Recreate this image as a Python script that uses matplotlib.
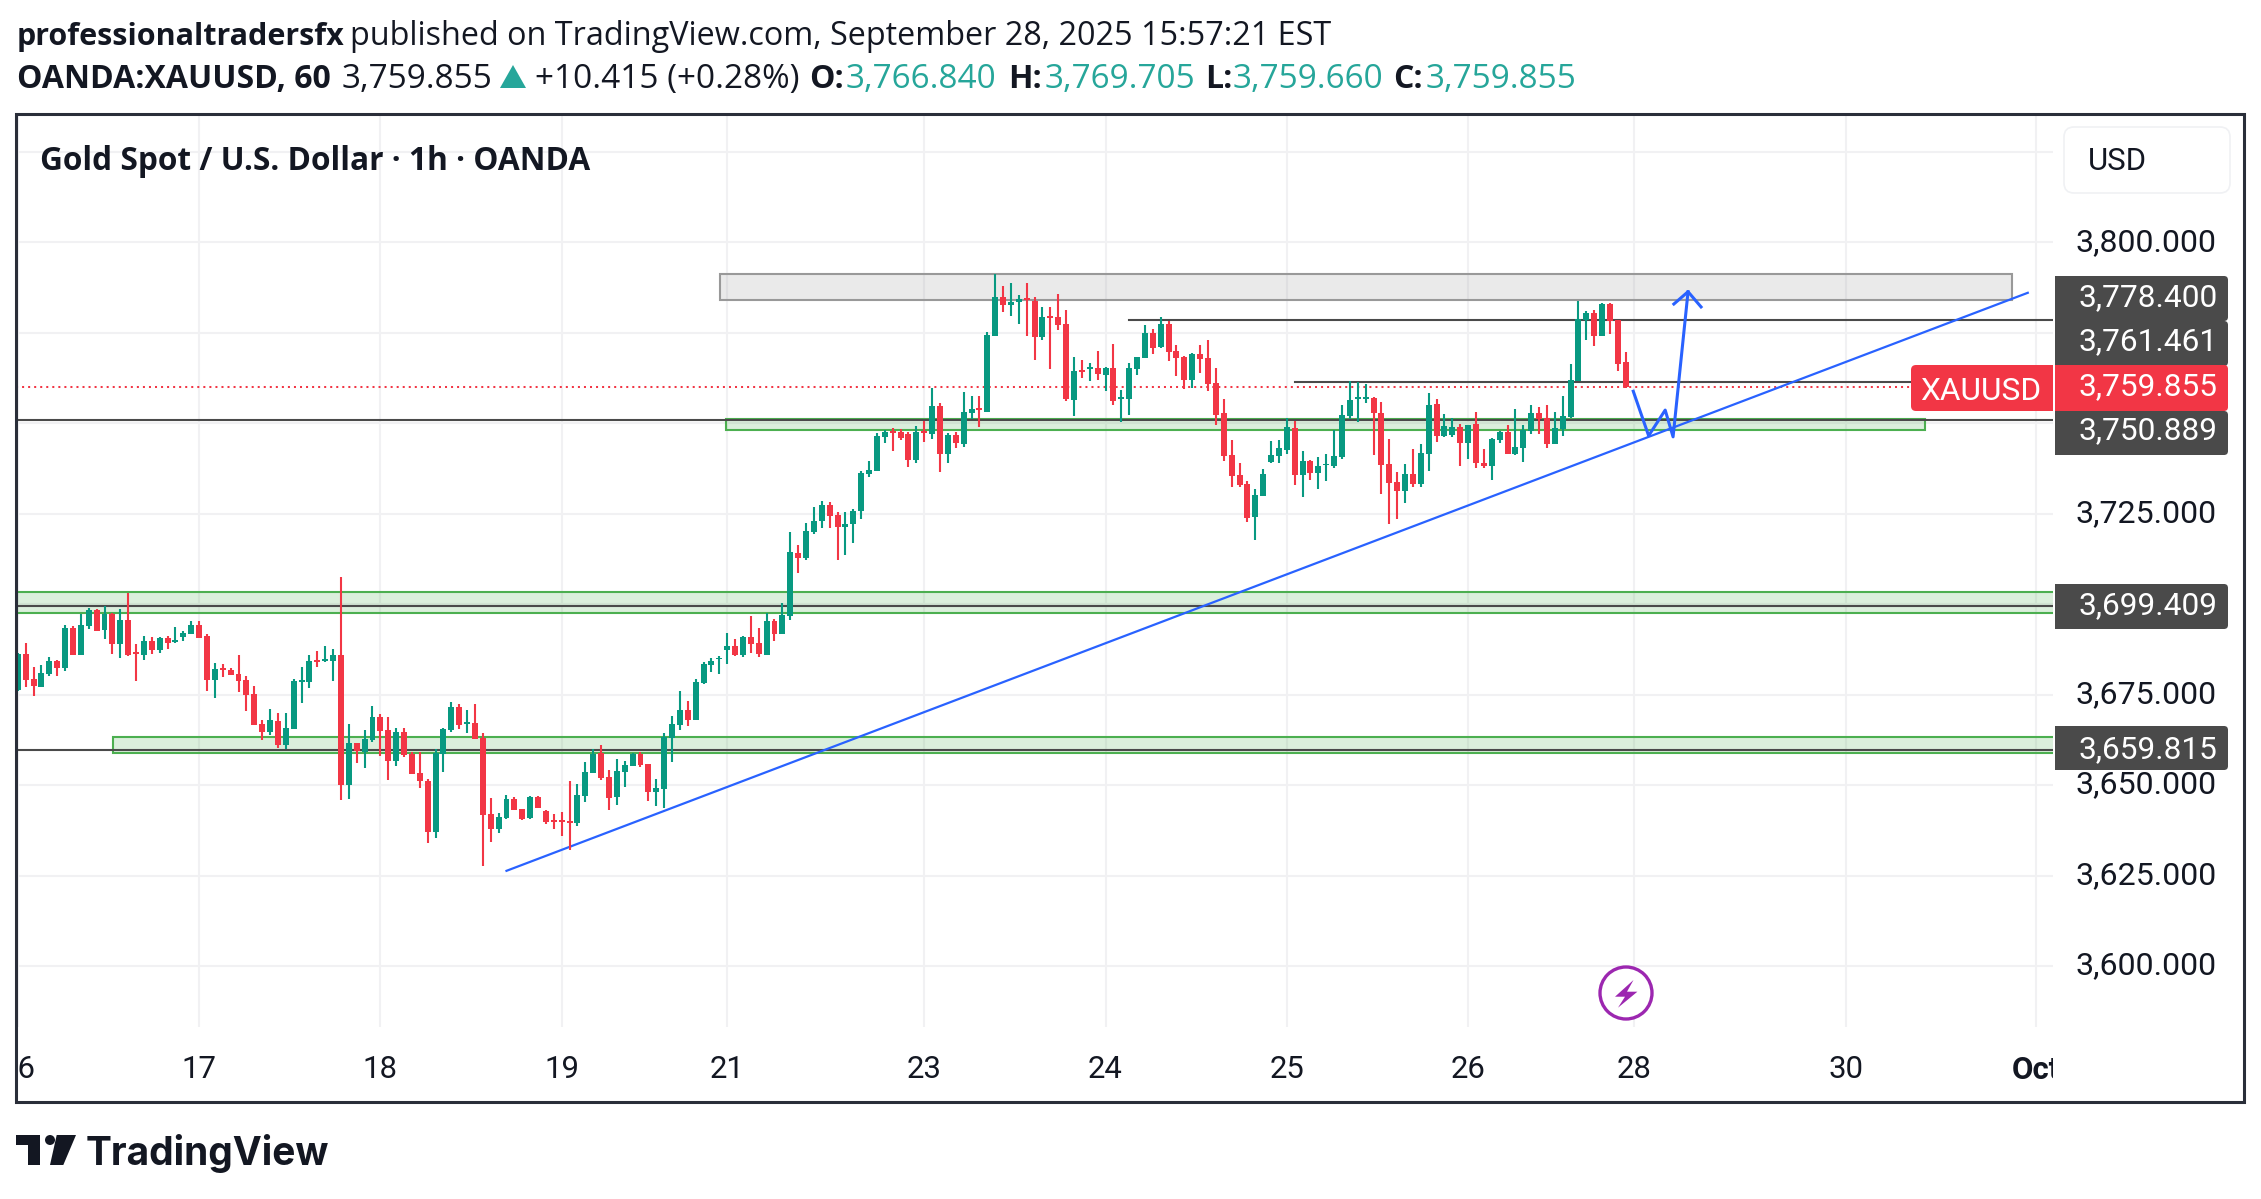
# Gold Spot / USD 1h chart, TradingView snapshot
import matplotlib
matplotlib.use('Agg')
from matplotlib import pyplot as plt
from matplotlib.patches import Rectangle, FancyBboxPatch, Circle, Polygon
from matplotlib.transforms import Bbox

W, H = 2261, 1199

opens = [3676.3, 3686.2, 3679.3, 3677.1, 3680.7, 3684.3, 3682.3, 3693.4, 3685.9, 3693.9,
         3698.4, 3692.8, 3697.3, 3689.0, 3695.6, 3686.8, 3685.9, 3689.8, 3687.3, 3690.6,
         3689.5, 3690.9, 3691.7, 3694.2, 3691.2, 3679.0, 3682.3, 3681.8, 3680.7, 3679.0,
         3675.2, 3666.9, 3664.7, 3667.7, 3661.1, 3665.5, 3678.5, 3678.5, 3684.6, 3684.3,
         3684.3, 3685.9, 3650.0, 3661.6, 3659.1, 3662.5, 3668.8, 3665.2, 3656.6, 3664.7,
         3658.6, 3653.3, 3651.1, 3637.0, 3658.6, 3665.2, 3671.6, 3666.9, 3667.1, 3663.0,
         3642.0, 3637.9, 3640.9, 3646.2, 3643.4, 3640.9, 3646.7, 3642.8, 3640.4, 3640.4,
         3640.1, 3639.5, 3647.0, 3653.3, 3658.8, 3652.2, 3646.7, 3653.6, 3655.3, 3658.6,
         3655.8, 3648.1, 3648.9, 3663.0, 3666.6, 3670.7, 3668.0, 3678.2, 3683.2, 3684.7,
         3687.3, 3688.4, 3685.9, 3690.9, 3689.2, 3685.9, 3695.3, 3691.7, 3696.7, 3714.1,
         3712.7, 3719.9, 3722.9, 3727.4, 3724.6, 3721.3, 3722.1, 3725.7, 3735.9, 3736.7,
         3746.1, 3747.8, 3747.5, 3747.0, 3739.8, 3747.8, 3747.0, 3754.7, 3741.4, 3746.7,
         3744.2, 3752.8, 3754.2, 3753.0, 3774.0, 3784.8, 3782.6, 3783.4, 3784.5, 3783.7,
         3773.8, 3779.6, 3779.3, 3777.4, 3756.4, 3764.7, 3764.9, 3765.2, 3763.3, 3765.2,
         3756.6, 3756.6, 3764.9, 3768.0, 3774.9, 3771.0, 3777.4, 3769.9, 3768.2, 3761.9,
         3769.1, 3768.0, 3761.1, 3752.8, 3741.2, 3735.7, 3733.2, 3724.1, 3729.9, 3739.2,
         3740.9, 3742.6, 3748.6, 3735.7, 3739.5, 3736.2, 3738.3, 3738.1, 3740.6, 3752.0,
         3756.7, 3756.7, 3756.9, 3752.8, 3738.7, 3733.7, 3731.2, 3735.9, 3733.2, 3741.5,
         3755.3, 3746.4, 3746.7, 3748.9, 3744.5, 3749.7, 3739.0, 3738.1, 3745.3, 3747.5,
         3741.5, 3743.1, 3747.8, 3752.8, 3751.4, 3744.2, 3748.4, 3751.7, 3761.6, 3778.5,
         3780.4, 3774.1, 3782.9, 3778.5, 3766.84]
highs = [3686.5, 3689.2, 3682.6, 3683.2, 3685.4, 3684.6, 3694.2, 3693.9, 3697.3, 3698.9,
         3698.6, 3699.5, 3697.5, 3698.6, 3703.1, 3689.0, 3691.2, 3690.9, 3690.9, 3691.2,
         3693.7, 3692.6, 3695.3, 3695.3, 3691.7, 3683.7, 3683.4, 3682.3, 3685.9, 3680.1,
         3677.4, 3668.0, 3671.0, 3669.9, 3669.9, 3679.3, 3682.6, 3685.9, 3687.0, 3688.4,
         3687.6, 3707.5, 3666.9, 3661.6, 3665.2, 3671.8, 3669.6, 3668.8, 3665.8, 3665.8,
         3659.1, 3659.1, 3651.7, 3660.0, 3665.8, 3672.9, 3672.4, 3670.7, 3672.4, 3664.4,
         3646.4, 3642.3, 3647.3, 3646.7, 3643.4, 3647.0, 3647.0, 3643.1, 3642.0, 3642.6,
         3651.1, 3650.3, 3656.4, 3660.0, 3661.1, 3654.2, 3657.2, 3656.6, 3658.9, 3659.1,
         3655.8, 3651.7, 3664.4, 3669.1, 3676.0, 3673.2, 3679.3, 3684.0, 3685.1, 3685.7,
         3692.0, 3690.4, 3691.2, 3696.7, 3693.4, 3697.5, 3695.9, 3700.3, 3719.9, 3716.3,
         3722.4, 3726.8, 3728.5, 3728.2, 3725.4, 3725.4, 3726.3, 3736.7, 3739.5, 3747.2,
         3748.1, 3748.6, 3748.4, 3747.5, 3749.2, 3750.6, 3759.7, 3755.5, 3747.2, 3747.5,
         3758.6, 3757.5, 3757.5, 3775.1, 3791.2, 3787.9, 3788.7, 3785.4, 3788.7, 3784.8,
         3782.1, 3782.1, 3785.6, 3781.2, 3768.2, 3767.4, 3766.6, 3769.9, 3765.5, 3771.8,
         3759.1, 3766.6, 3768.2, 3777.1, 3776.0, 3779.3, 3778.2, 3771.6, 3768.5, 3769.3,
         3771.6, 3772.9, 3765.2, 3756.7, 3745.3, 3739.0, 3734.0, 3731.8, 3737.3, 3745.0,
         3745.3, 3751.4, 3750.6, 3742.3, 3739.8, 3740.6, 3741.5, 3748.1, 3755.0, 3761.6,
         3761.3, 3760.8, 3757.2, 3755.8, 3745.6, 3736.5, 3738.7, 3742.8, 3744.2, 3758.3,
         3756.7, 3752.5, 3751.4, 3749.7, 3749.5, 3753.1, 3742.8, 3745.9, 3747.8, 3749.5,
         3753.9, 3749.5, 3755.0, 3754.4, 3755.0, 3753.1, 3757.5, 3766.3, 3783.7, 3781.0,
         3781.2, 3783.2, 3783.2, 3778.5, 3769.705]
lows = [3675.9, 3677.1, 3674.6, 3677.1, 3680.1, 3680.1, 3681.5, 3685.9, 3685.9, 3693.1,
        3692.6, 3690.4, 3686.2, 3685.1, 3685.7, 3678.7, 3684.6, 3686.2, 3686.5, 3687.6,
        3689.2, 3689.8, 3691.7, 3690.6, 3676.0, 3674.1, 3679.9, 3680.4, 3675.7, 3670.5,
        3666.6, 3662.5, 3663.8, 3660.2, 3660.0, 3665.5, 3672.7, 3676.8, 3682.6, 3684.0,
        3678.7, 3645.9, 3646.2, 3656.1, 3654.7, 3661.9, 3658.0, 3651.4, 3655.3, 3657.8,
        3653.1, 3649.2, 3634.0, 3635.4, 3653.6, 3664.7, 3665.5, 3664.4, 3662.7, 3627.6,
        3634.3, 3636.8, 3640.6, 3643.1, 3640.4, 3640.6, 3643.7, 3639.2, 3637.9, 3635.9,
        3632.1, 3638.7, 3645.3, 3653.3, 3651.4, 3643.1, 3644.5, 3649.5, 3655.3, 3655.0,
        3645.6, 3644.2, 3643.7, 3656.4, 3665.2, 3666.3, 3668.0, 3677.9, 3681.2, 3680.7,
        3683.4, 3685.7, 3685.4, 3686.5, 3685.4, 3685.9, 3689.8, 3691.7, 3695.6, 3708.6,
        3712.2, 3719.3, 3721.0, 3721.0, 3712.2, 3713.5, 3716.9, 3723.5, 3735.1, 3736.7,
        3744.5, 3742.3, 3745.3, 3737.9, 3739.0, 3744.8, 3745.6, 3736.5, 3739.0, 3743.1,
        3743.4, 3751.1, 3748.9, 3753.0, 3774.0, 3780.7, 3779.6, 3777.4, 3774.0, 3767.4,
        3772.9, 3764.9, 3775.7, 3756.1, 3751.9, 3762.4, 3761.6, 3761.9, 3758.8, 3755.0,
        3750.3, 3752.2, 3763.3, 3768.0, 3769.1, 3770.7, 3767.1, 3763.0, 3759.4, 3759.7,
        3763.8, 3758.8, 3749.5, 3739.5, 3732.3, 3732.3, 3722.7, 3717.7, 3729.9, 3739.0,
        3739.0, 3741.5, 3732.9, 3729.6, 3734.3, 3731.8, 3734.0, 3737.6, 3740.1, 3751.1,
        3750.3, 3755.5, 3741.2, 3730.4, 3722.1, 3723.5, 3727.9, 3732.3, 3732.3, 3736.8,
        3744.8, 3746.2, 3746.2, 3738.1, 3740.1, 3737.6, 3737.6, 3734.3, 3744.5, 3741.5,
        3741.2, 3739.2, 3747.0, 3747.0, 3743.1, 3744.2, 3746.4, 3751.4, 3761.6, 3773.0,
        3771.3, 3774.1, 3774.6, 3764.4, 3759.66]
closes = [3686.2, 3679.0, 3677.4, 3681.0, 3684.3, 3682.3, 3693.4, 3685.9, 3694.2, 3698.4,
          3692.6, 3697.3, 3689.0, 3695.6, 3685.9, 3686.2, 3689.8, 3687.3, 3690.6, 3689.2,
          3690.1, 3692.0, 3694.2, 3690.6, 3679.0, 3682.1, 3681.9, 3680.4, 3678.7, 3674.9,
          3666.6, 3664.7, 3668.0, 3661.1, 3665.8, 3678.7, 3679.0, 3684.3, 3684.0, 3684.8,
          3685.9, 3650.0, 3661.6, 3659.4, 3662.7, 3668.8, 3664.9, 3656.6, 3664.7, 3658.3,
          3653.1, 3651.1, 3637.0, 3658.9, 3665.5, 3671.6, 3666.6, 3667.4, 3662.7, 3641.7,
          3637.9, 3641.2, 3646.2, 3643.1, 3640.6, 3646.7, 3643.7, 3639.8, 3639.8, 3639.8,
          3639.6, 3647.3, 3653.6, 3658.6, 3652.0, 3646.4, 3653.9, 3655.5, 3658.6, 3655.5,
          3648.1, 3649.2, 3663.3, 3666.9, 3670.7, 3668.0, 3678.5, 3683.4, 3684.3, 3685.1,
          3688.4, 3685.9, 3690.9, 3689.0, 3686.2, 3695.3, 3691.7, 3697.0, 3714.4, 3712.7,
          3720.2, 3722.9, 3727.4, 3724.3, 3721.3, 3722.1, 3725.7, 3736.2, 3737.0, 3746.4,
          3747.5, 3747.2, 3745.9, 3739.8, 3747.5, 3747.2, 3754.7, 3741.4, 3746.7, 3744.5,
          3753.0, 3753.9, 3753.6, 3774.3, 3784.8, 3782.6, 3783.4, 3784.3, 3784.0, 3773.8,
          3779.3, 3779.0, 3777.1, 3756.6, 3764.4, 3764.1, 3765.5, 3763.5, 3765.2, 3756.1,
          3757.2, 3765.2, 3768.2, 3774.9, 3770.7, 3777.4, 3769.6, 3768.0, 3761.9, 3769.1,
          3767.7, 3760.8, 3752.2, 3740.9, 3735.4, 3732.9, 3723.8, 3730.1, 3735.9, 3741.2,
          3743.1, 3748.9, 3735.7, 3739.5, 3736.2, 3738.1, 3738.7, 3740.9, 3752.2, 3756.4,
          3757.2, 3757.2, 3752.8, 3738.4, 3733.4, 3731.2, 3735.9, 3733.2, 3741.7, 3755.0,
          3746.4, 3749.2, 3748.9, 3744.5, 3749.5, 3739.0, 3738.1, 3745.6, 3747.5, 3741.5,
          3743.4, 3748.1, 3752.8, 3751.1, 3744.2, 3748.6, 3752.0, 3761.9, 3778.8, 3780.4,
          3774.1, 3782.9, 3778.2, 3766.3, 3759.855]

day_ticks = [0, 23, 46, 69, 90, 115, 138, 161, 184, 205, 232, 256]
day_labels = ['16', '17', '18', '19', '21', '23', '24', '25', '26', '28', '30', 'Oct']
price_ticks = [3600, 3625, 3650, 3675, 3700, 3725, 3750, 3775, 3800, 3825]
price_labels = ['3,600.000', '3,625.000', '3,650.000', '3,675.000', '', '3,725.000', '', '', '3,800.000', '']

# drawn levels and zones, x in bars, y in price
level_prices = [3699.409, 3659.815, 3750.889, 3778.4, 3761.461]
level_starts = [-1, -1, -1, 141, 162]
green_zones = [(-3, 3697.5, 3703.3), (12.1, 3658.9, 3663.3), (89.9, 3748.1, 3751.1)]
green_ends = [262, 262, 242]
grey_zone = (89.1, 253, 3784.0, 3791.2)
trend_x = [62, 255]
trend_y = [3626.3, 3786.0]
path_x = [204.95, 206.9, 209.0, 210.0, 211.9]
path_y = [3758.8, 3746.5, 3753.6, 3746.2, 3786.3]
head_x = [210.1, 211.9, 213.55]
head_y = [3782.9, 3786.3, 3782.1]
last_price = 3759.855

UP = '#089981'
DOWN = '#f23645'
INK = '#131722'
TEAL = '#26a69a'
DARK = '#4a4a4a'
BLUE = '#2962ff'
GRID = '#f1f1f3'
GREEN = '#4caf50'
GREY = '#999999'

fig = plt.figure(figsize=(W / 100, H / 100), dpi=100, facecolor='white')

# chart pane
ax = fig.add_axes([16 / W, 1 - 1027 / H, (2053 - 16) / W, (1027 - 114) / H])
for s in ax.spines.values():
    s.set_visible(False)
ax.set_xlim(-0.228, 258.2)
ax.set_ylim(3583.15, 3835.4)
ax.set_axisbelow(True)
ax.grid(True, color=GRID, linewidth=1.5)
ax.set_xticks(day_ticks)
ax.set_xticklabels(day_labels, fontfamily='Roboto', fontsize=22.4, color=INK)
ax.yaxis.tick_right()
ax.set_yticks(price_ticks)
ax.set_yticklabels(price_labels, fontfamily='Roboto', fontsize=23.1, color=INK, va='center')
ax.tick_params(axis='x', length=0, pad=20)
ax.tick_params(axis='y', length=0, pad=16.5)
clip = Bbox([[18, 0], [2053, H]])
for lab in ax.get_xticklabels():
    lab.set_clip_on(True)
    lab.set_clip_box(clip)
ax.get_xticklabels()[-1].set_fontweight('bold')

# zones
for (x0, y0, y1), x1 in zip(green_zones, green_ends):
    ax.add_patch(Rectangle((x0, y0), x1 - x0, y1 - y0, facecolor=GREEN + '33', edgecolor=GREEN,
                           linewidth=1.5, zorder=3))
ax.add_patch(Rectangle((grey_zone[0], grey_zone[2]), grey_zone[1] - grey_zone[0], grey_zone[3] - grey_zone[2],
                       facecolor=GREY + '33', edgecolor=GREY, linewidth=1.5, zorder=3))

# lines
for p, x0 in zip(level_prices, level_starts):
    ax.plot([x0, 262], [p, p], color=DARK, linewidth=1.5, zorder=4)
ax.plot([-1, 241], [last_price, last_price], color=DOWN, linewidth=1.45, linestyle=(0, (1, 2)), zorder=4)
ax.plot(trend_x, trend_y, color=BLUE, linewidth=1.6, zorder=5)
ax.plot(path_x, path_y, color=BLUE, linewidth=2.2, zorder=5)
ax.plot(head_x, head_y, color=BLUE, linewidth=2.2, zorder=5)

# candles sit on top of the drawings
for i in range(len(opens)):
    col = UP if closes[i] >= opens[i] else DOWN
    ax.vlines(i, lows[i], highs[i], color=col, linewidth=1.5, zorder=6)
    ax.bar(i, abs(closes[i] - opens[i]), bottom=min(opens[i], closes[i]), width=0.76,
           color=col, linewidth=0, zorder=6)

# everything around the pane, in pixels
ov = fig.add_axes([0, 0, 1, 1], zorder=5)
ov.set_xlim(0, W)
ov.set_ylim(H, 0)
ov.axis('off')


def tag(y0, y1, color):
    ov.add_patch(FancyBboxPatch((2055, y0), 173, y1 - y0, boxstyle='round,pad=0,rounding_size=4',
                                facecolor=color, edgecolor='none'))
    ov.add_patch(Rectangle((2055, y0), 20, y1 - y0, facecolor=color, edgecolor='none'))


tag_boxes = [(276, 321, DARK), (321, 366, DARK), (411, 455, DARK), (584, 629, DARK), (726, 770, DARK),
             (365, 411, DOWN)]
tag_texts = [(298, '3,778.400'), (342, '3,761.461'), (431, '3,750.889'), (606, '3,699.409'), (750, '3,659.815'),
             (387, '3,759.855')]
for y0, y1, c in tag_boxes:
    tag(y0, y1, c)
for y, s in tag_texts:
    ov.text(2078, y, s, color='white', fontfamily='Roboto', fontsize=22.8, va='center', ha='left')

ov.add_patch(FancyBboxPatch((1911, 365), 142, 46, boxstyle='round,pad=0,rounding_size=5',
                            facecolor=DOWN, edgecolor='none'))
ov.add_patch(Rectangle((2030, 365), 23, 46, facecolor=DOWN, edgecolor='none'))
ov.text(1981, 391, 'XAUUSD', color='white', fontfamily='Roboto', fontsize=22.8, va='center', ha='center')

ov.add_patch(FancyBboxPatch((2064, 127), 166, 66, boxstyle='round,pad=0,rounding_size=10',
                            facecolor='white', edgecolor='#f0f1f4', linewidth=1.2))
ov.text(2088, 161, 'USD', color=INK, fontfamily='Roboto', fontsize=22.4, va='center', ha='left')

# frame
ov.add_patch(Rectangle((16, 114), 2228, 988, facecolor='none', edgecolor='#2a2e39', linewidth=2.2))

# lightning badge
ov.add_patch(Circle((1626, 993), 26, facecolor='white', edgecolor='#9c27b0', linewidth=2.4))
ov.add_patch(Polygon([(1633.5, 980), (1615, 996.7), (1625, 996.7), (1618, 1007.7), (1637.4, 991.7), (1627, 991.7)],
                     facecolor='#9c27b0', edgecolor='none'))

# header
HEAD = dict(fontfamily='Open Sans', va='baseline', ha='left')
ov.text(40, 170, 'Gold Spot / U.S. Dollar · 1h · OANDA', color=INK, fontweight='bold', fontsize=22.8, **HEAD)
ov.text(17, 45, 'professionaltradersfx', color=INK, fontweight='bold', fontsize=22, **HEAD)
ov.text(350, 45, 'published on TradingView.com, September 28, 2025 15:57:21 EST', color=INK, fontsize=23.3, **HEAD)
row = [(17, 'OANDA:XAUUSD, 60', INK, 'bold', 23), (342, '3,759.855', INK, 'normal', 24),
       (535, '+10.415 (+0.28%)', INK, 'normal', 24),
       (809, 'O:', INK, 'bold', 23), (846, '3,766.840', TEAL, 'normal', 24), (1008, 'H:', INK, 'bold', 23),
       (1045, '3,769.705', TEAL, 'normal', 24), (1205, 'L:', INK, 'bold', 23), (1233, '3,759.660', TEAL, 'normal', 24),
       (1393, 'C:', INK, 'bold', 23), (1426, '3,759.855', TEAL, 'normal', 24)]
for x, s, c, w, fs in row:
    ov.text(x, 88, s, color=c, fontweight=w, fontsize=fs, **HEAD)
ov.add_patch(Polygon([(500, 88), (513, 65), (526, 88)], facecolor=TEAL, edgecolor='none'))

# logo
ov.add_patch(Polygon([(16, 1135), (40, 1135), (40, 1165), (28, 1165), (28, 1145), (16, 1145)], facecolor=INK, edgecolor='none'))
ov.add_patch(Circle((50, 1140), 5, facecolor=INK, edgecolor='none'))
ov.add_patch(Polygon([(56.7, 1135), (76, 1135), (63.3, 1165), (50, 1165)], facecolor=INK, edgecolor='none'))
ov.text(86, 1165, 'TradingView', color=INK, fontfamily='Inter', fontweight='bold', fontsize=28, va='baseline', ha='left')

fig.savefig('out.png', dpi=100, facecolor='white')
